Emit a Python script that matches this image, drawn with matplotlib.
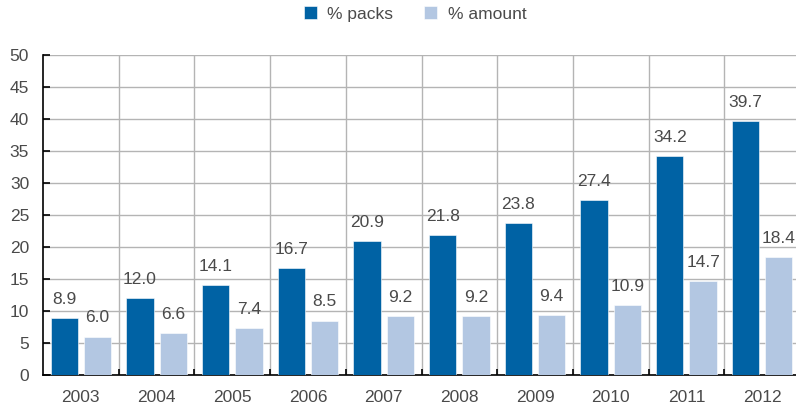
import numpy as np
import matplotlib
matplotlib.use("Agg")
import matplotlib.pyplot as plt
from matplotlib.ticker import FixedLocator

# Data
years = ["2003", "2004", "2005", "2006", "2007", "2008", "2009", "2010", "2011", "2012"]
packs = [8.9, 12.0, 14.1, 16.7, 20.9, 21.8, 23.8, 27.4, 34.2, 39.7]
amount = [6.0, 6.6, 7.4, 8.5, 9.2, 9.2, 9.4, 10.9, 14.7, 18.4]

DARK = "#0062a4"
LIGHT = "#b3c7e2"
TEXT = "#4a4a4a"
GRID = "#b4b4b4"
FS = 12.5

plt.rcParams["font.family"] = ["Liberation Sans", "DejaVu Sans"]
plt.rcParams["font.size"] = FS

fig = plt.figure(figsize=(7.96, 4.09), dpi=100)
ax = fig.add_axes([43 / 796, 1 - 375 / 409, 753 / 796, 320 / 409])

x = np.arange(len(years))
w = 0.36
off = 0.22
b1 = ax.bar(x - off, packs, w, color=DARK, label="% packs", zorder=3,
            edgecolor="white", linewidth=0.4)
b2 = ax.bar(x + off, amount, w, color=LIGHT, label="% amount", zorder=3,
            edgecolor="white", linewidth=0.4)

# value labels above each bar
for bars, vals in ((b1, packs), (b2, amount)):
    for rect, v in zip(bars, vals):
        ax.annotate(f"{v:.1f}", (rect.get_x() + rect.get_width() / 2, v),
                    xytext=(0, 8), textcoords="offset points",
                    ha="center", va="bottom", color=TEXT, fontsize=FS)

ax.set_xlim(-0.5, -0.5 + 10 * 753 / 757)
ax.set_ylim(0, 50)
ax.set_yticks(range(0, 51, 5))
ax.set_xticks(x)
ax.set_xticklabels(years)
ax.xaxis.set_minor_locator(FixedLocator(np.arange(0.5, 9.6, 1)))

ax.grid(axis="y", which="major", color=GRID, linewidth=1, zorder=0)
ax.grid(axis="x", which="minor", color=GRID, linewidth=1, zorder=0)
ax.set_axisbelow(True)

for side in ("top", "right"):
    ax.spines[side].set_visible(False)
for side in ("left", "bottom"):
    ax.spines[side].set_color("black")
    ax.spines[side].set_linewidth(1.2)

ax.tick_params(axis="y", direction="in", length=5, width=1.2, colors="black",
               labelcolor=TEXT, pad=10)
ax.tick_params(axis="x", which="major", length=0, pad=11, labelcolor=TEXT)
ax.tick_params(axis="x", which="minor", direction="in", length=4, width=1.2,
               colors="black")

fig.legend(handles=[b1, b2], loc="center", bbox_to_anchor=(415 / 796, 1 - 14 / 409),
           ncol=2, frameon=False, handlelength=0.75, handleheight=0.75,
           columnspacing=1.8, handletextpad=0.6, labelcolor=TEXT, fontsize=FS)

fig.savefig("out.png", dpi=100)
